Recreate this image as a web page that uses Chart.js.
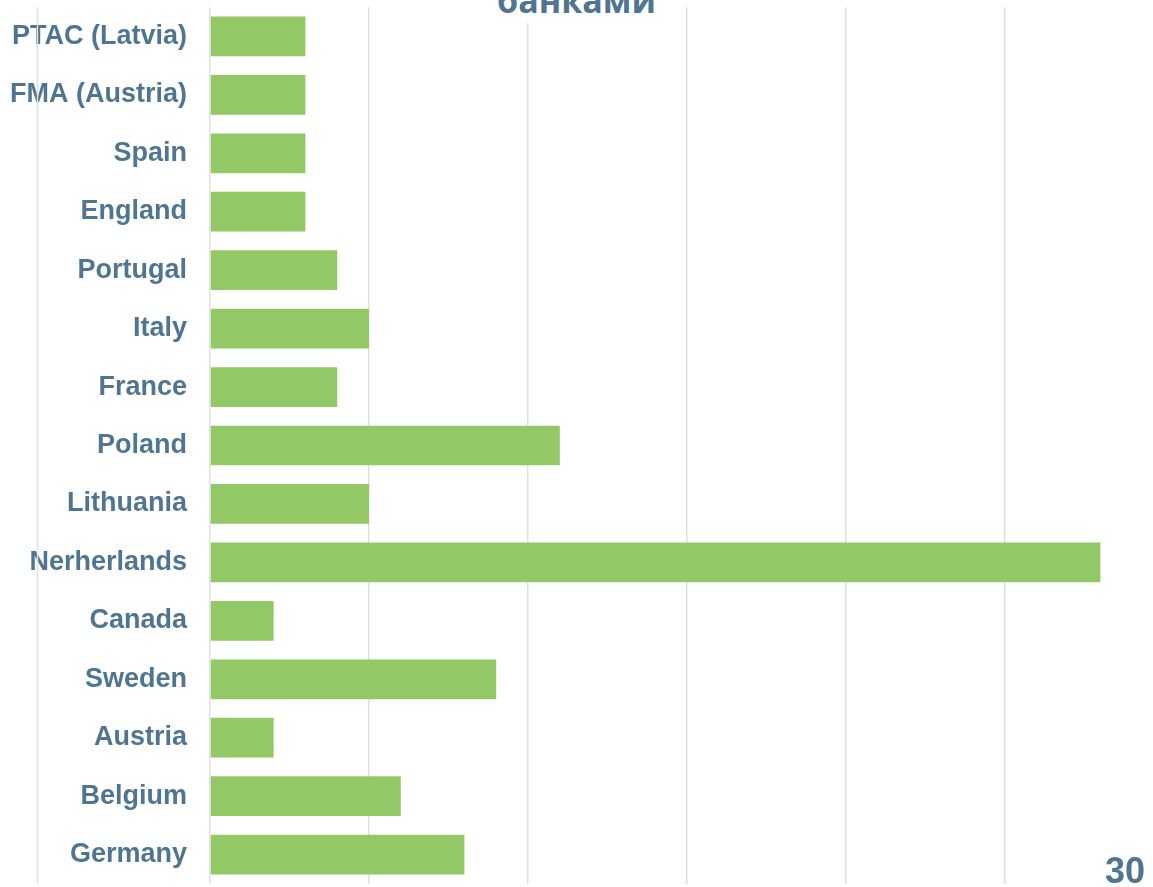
<!DOCTYPE html>
<html>
<head>
<meta charset="utf-8">
<script src="https://cdn.jsdelivr.net/npm/chart.js@4.4.1/dist/chart.umd.min.js"></script>
<style>
    html, body { margin: 0; padding: 0; background: #fff; overflow: hidden; }
    body { width: 1153px; height: 887px; position: relative; }
    #wrap { position: absolute; left: 0; top: -32px; width: 1170px; height: 955px; }
    #title {
        position: absolute; left: 0; width: 1153px; top: -17px;
        text-align: center; font: bold 34px "Open Sans", sans-serif; line-height: 34px;
        color: #4f7590;
    }
    #title span { background: #fff; padding: 0 4px; }
    #page {
        position: absolute; right: 8px; bottom: -5px;
        font: bold 36px "Liberation Sans", Arial, sans-serif; color: #4f7590;
    }
</style>
</head>
<body>
<div id="wrap"><canvas id="statsChart"></canvas></div>
<div id="title"><span>банками</span></div>
<div id="page">30</div>
<script>
const countries = ['PTAC (Latvia)', 'FMA (Austria)', 'Spain', 'England', 'Portugal', 'Italy', 'France',
    'Poland', 'Lithuania', 'Nerherlands', 'Canada', 'Sweden', 'Austria', 'Belgium', 'Germany'];
const counts = [3, 3, 3, 3, 4, 5, 4, 11, 5, 28, 2, 9, 2, 6, 8];
const axisMin = 0;
const axisMax = 30;
const axisStep = 5;

// extra grey line left of the labels, as on the slide
const edgeLine = {
    id: 'edgeLine',
    beforeDatasetsDraw(chart) {
        const { ctx, chartArea } = chart;
        ctx.save();
        ctx.strokeStyle = '#e0e0e0';
        ctx.lineWidth = 1.5;
        ctx.beginPath();
        ctx.moveTo(chart.scales.y.left + 37.5, chartArea.top);
        ctx.lineTo(chart.scales.y.left + 37.5, chartArea.bottom);
        ctx.stroke();
        ctx.restore();
    }
};

document.addEventListener("DOMContentLoaded", () => {
    const ctx = document.getElementById('statsChart').getContext('2d');

    new Chart(ctx, {
        type: 'bar',
        data: {
            labels: countries,
            datasets: [{
                data: counts,
                backgroundColor: '#92c966',
                borderWidth: 0,
                barPercentage: 0.68,
                categoryPercentage: 1
            }]
        },
        options: {
            indexAxis: 'y',
            responsive: true,
            maintainAspectRatio: false,
            animation: false,
            layout: { padding: { top: 6, bottom: 3, right: 6, left: 0 } },
            plugins: { legend: { display: false }, tooltip: { enabled: false } },
            scales: {
                x: {
                    min: axisMin,
                    max: axisMax,
                    ticks: { display: false, stepSize: axisStep },
                    border: { display: false },
                    grid: { color: '#e0e0e0', lineWidth: 1.5, drawTicks: false }
                },
                y: {
                    afterFit: (scale) => { scale.width = 210; },
                    ticks: {
                        color: '#4f7590',
                        padding: 23,
                        font: { family: '"Liberation Sans", Arial, sans-serif', size: 27, weight: 'bold' }
                    },
                    border: { display: false },
                    grid: { display: false, drawTicks: false }
                }
            }
        },
        plugins: [edgeLine]
    });
});
</script>
</body>
</html>
